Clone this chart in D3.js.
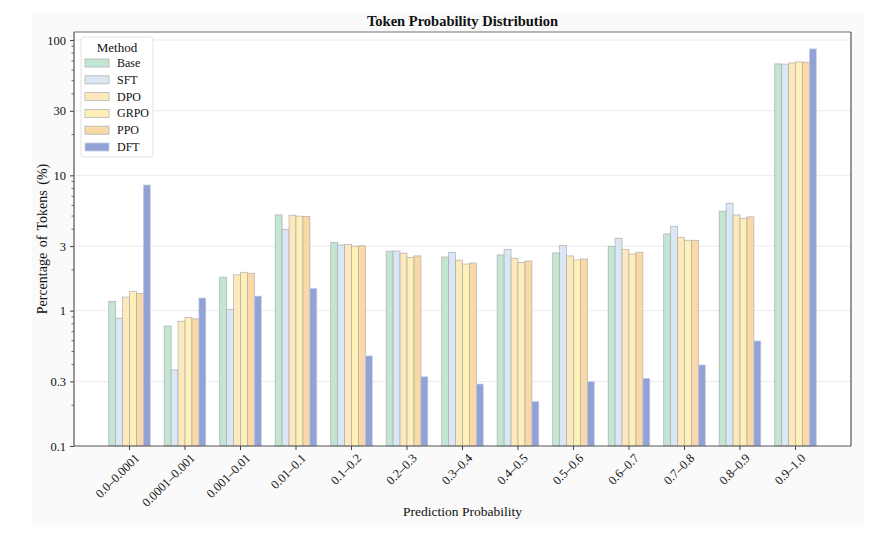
<!DOCTYPE html>
<html>
<head>
<meta charset="utf-8">
<script src="https://cdn.jsdelivr.net/npm/d3@7"></script>
<style>
  body { margin: 0; background: #fff; }
  text { font-family: "Liberation Serif", "Times New Roman", serif; fill: #111; }
</style>
</head>
<body>
<div id="chart"></div>
<script>
// --- Data ---
const bins = ['0.0–0.0001', '0.0001–0.001', '0.001–0.01', '0.01–0.1', '0.1–0.2', '0.2–0.3',
  '0.3–0.4', '0.4–0.5', '0.5–0.6', '0.6–0.7', '0.7–0.8', '0.8–0.9', '0.9–1.0'];
const methods = ['Base', 'SFT', 'DPO', 'GRPO', 'PPO', 'DFT'];
const baseVals = [1.17, 0.77, 1.77, 5.10, 3.20, 2.75, 2.49, 2.58, 2.67, 2.99, 3.69, 5.43, 66.6];
const sftVals  = [0.88, 0.365, 1.02, 3.99, 3.06, 2.76, 2.70, 2.84, 3.04, 3.43, 4.20, 6.22, 66.3];
const dpoVals  = [1.26, 0.835, 1.84, 5.07, 3.09, 2.66, 2.36, 2.44, 2.54, 2.84, 3.49, 5.10, 67.7];
const grpoVals = [1.39, 0.89, 1.92, 4.99, 2.99, 2.48, 2.21, 2.27, 2.37, 2.62, 3.31, 4.79, 68.9];
const ppoVals  = [1.34, 0.87, 1.89, 4.97, 3.02, 2.54, 2.25, 2.33, 2.41, 2.70, 3.31, 4.93, 68.5];
const dftVals  = [8.49, 1.24, 1.28, 1.46, 0.463, 0.325, 0.287, 0.213, 0.299, 0.316, 0.397, 0.597, 86.0];
const seriesVals = [baseVals, sftVals, dpoVals, grpoVals, ppoVals, dftVals];
const colors = ['#c3e6d2', '#dae8f5', '#fde9bd', '#fff0b8', '#fad9a8', '#93a2d4'];
const yTicks = [0.1, 0.3, 1, 3, 10, 30, 100];

// --- Layout ---
const width = 884, height = 533;
const margin = { top: 32, right: 33, bottom: 87, left: 74 };
const innerW = width - margin.left - margin.right;
const innerH = height - margin.top - margin.bottom;

const svg = d3.select('#chart').append('svg')
  .attr('width', width)
  .attr('height', height);

// figure background
svg.append('rect')
  .attr('x', 32).attr('y', 12)
  .attr('width', 832).attr('height', 513)
  .attr('fill', '#fafafa');

const g = svg.append('g').attr('transform', `translate(${margin.left},${margin.top})`);

g.append('rect')
  .attr('width', innerW).attr('height', innerH)
  .attr('fill', '#fff');

// --- Scales ---
const x0 = d3.scaleBand()
  .domain(bins)
  .range([0, innerW])
  .paddingInner(0.25)
  .paddingOuter(0.625);

const x1 = d3.scaleBand()
  .domain(methods)
  .range([0, x0.bandwidth()]);

const y = d3.scaleLog()
  .domain([0.1, 114.6])
  .range([innerH, 0]);

// --- Grid ---
g.append('g')
  .selectAll('line')
  .data(yTicks.slice(1))
  .join('line')
  .attr('x1', 0).attr('x2', innerW)
  .attr('y1', d => y(d)).attr('y2', d => y(d))
  .attr('stroke', '#ebebeb')
  .attr('stroke-width', 1);

// --- Bars ---
const groups = g.append('g')
  .selectAll('g')
  .data(bins)
  .join('g')
  .attr('transform', d => `translate(${x0(d)},0)`);

groups.selectAll('rect')
  .data((d, i) => methods.map((m, j) => ({ method: m, value: seriesVals[j][i], color: colors[j] })))
  .join('rect')
  .attr('x', d => x1(d.method))
  .attr('y', d => y(d.value))
  .attr('width', x1.bandwidth())
  .attr('height', d => innerH - y(d.value))
  .attr('fill', d => d.color)
  .attr('stroke', d => d.method === 'DFT' ? '#c8cde6' : '#a9a9a9')
  .attr('stroke-opacity', 0.8)
  .attr('stroke-width', 0.8);

// --- Axes ---
const yAxis = d3.axisLeft(y)
  .tickValues(yTicks)
  .tickFormat(d3.format('~g'))
  .tickSize(4);

const yAx = g.append('g').call(yAxis);
yAx.select('.domain').remove();
yAx.selectAll('text').attr('font-size', 12.5).attr('dx', '-1');
yAx.selectAll('line').attr('stroke', '#444');

// minor ticks
const minor = [];
[0.1, 1, 10].forEach(b => { for (let k = 2; k <= 9; k++) if (k !== 3) minor.push(b * k); });
g.append('g')
  .selectAll('line')
  .data(minor.filter(v => v < 114 && !yTicks.includes(v)))
  .join('line')
  .attr('x1', -2.5).attr('x2', 0)
  .attr('y1', d => y(d)).attr('y2', d => y(d))
  .attr('stroke', '#444')
  .attr('stroke-width', 0.8);

const xAx = g.append('g')
  .attr('transform', `translate(0,${innerH})`)
  .call(d3.axisBottom(x0).tickSize(4));
xAx.select('.domain').remove();
xAx.selectAll('line').attr('stroke', '#444');
xAx.selectAll('text')
  .attr('font-size', 12.5)
  .attr('text-anchor', 'end')
  .attr('dx', '0.1em')
  .attr('dy', '0.55em')
  .attr('transform', 'translate(0,4) rotate(-45)');

// spines
g.append('line').attr('x1', 0).attr('x2', innerW).attr('y1', 0).attr('y2', 0)
  .attr('stroke', '#b5b5b5').attr('stroke-width', 2);
g.append('line').attr('x1', 0).attr('x2', 0).attr('y1', 0).attr('y2', innerH)
  .attr('stroke', '#555').attr('stroke-width', 1.2);
g.append('line').attr('x1', innerW).attr('x2', innerW).attr('y1', 0).attr('y2', innerH)
  .attr('stroke', '#555').attr('stroke-width', 1.2);
g.append('line').attr('x1', 0).attr('x2', innerW).attr('y1', innerH).attr('y2', innerH)
  .attr('stroke', '#555').attr('stroke-width', 1.2);

// --- Labels ---
svg.append('text')
  .attr('x', margin.left + innerW / 2).attr('y', 26)
  .attr('text-anchor', 'middle')
  .attr('font-size', 14.5).attr('font-weight', 'bold')
  .text('Token Probability Distribution');

svg.append('text')
  .attr('transform', `translate(47,${margin.top + innerH / 2}) rotate(-90)`)
  .attr('text-anchor', 'middle')
  .attr('font-size', 14)
  .attr('word-spacing', 2)
  .text('Percentage of Tokens (%)');

svg.append('text')
  .attr('x', margin.left + innerW / 2).attr('y', 516)
  .attr('text-anchor', 'middle')
  .attr('font-size', 13.5)
  .text('Prediction Probability');

// --- Legend ---
const legend = svg.append('g').attr('transform', 'translate(81,37)');
legend.append('rect')
  .attr('width', 72).attr('height', 120)
  .attr('rx', 3)
  .attr('fill', '#fff').attr('fill-opacity', 0.85)
  .attr('stroke', '#e2e2e2');
legend.append('text')
  .attr('x', 36).attr('y', 15)
  .attr('text-anchor', 'middle')
  .attr('font-size', 13)
  .text('Method');
const items = legend.selectAll('g.item')
  .data(methods)
  .join('g')
  .attr('class', 'item')
  .attr('transform', (d, i) => `translate(0,${26 + i * 16.8})`);
items.append('rect')
  .attr('x', 4).attr('y', -4)
  .attr('width', 24).attr('height', 8)
  .attr('fill', (d, i) => colors[i])
  .attr('stroke', (d, i) => i === 5 ? '#c8cde6' : '#b5b5b5')
  .attr('stroke-width', 0.8);
items.append('text')
  .attr('x', 36).attr('y', 4)
  .attr('font-size', 12)
  .text(d => d);
</script>
</body>
</html>
